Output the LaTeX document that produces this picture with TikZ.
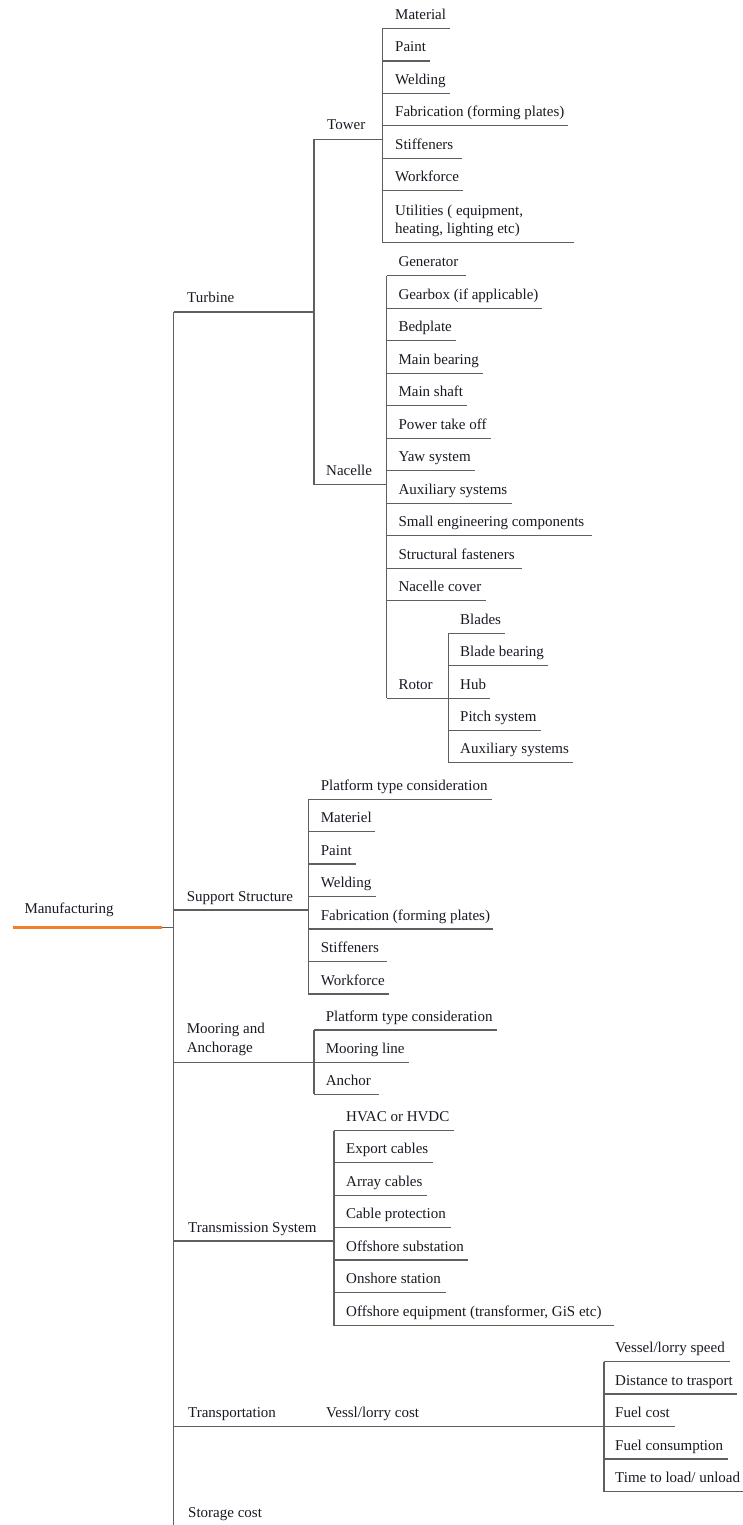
\documentclass[tikz,border=0pt]{standalone}
\usepackage{fontspec}
\setmainfont{Liberation Serif}
\definecolor{lncol}{RGB}{95,95,95}
\definecolor{txcol}{RGB}{25,25,35}
\definecolor{orgcol}{RGB}{245,125,40}
\tikzset{
  lbl/.style={anchor=base west,inner sep=0pt,text=txcol,font=\fontsize{15}{18}\selectfont},
  conn/.style={draw=lncol,line width=1.1pt},
  rootline/.style={draw=orgcol,line width=3pt}
}
% #1 name, #2 vertical x, #3 text x, #4 underline y, #5 underline end x, #6 text
\newcommand\leaf[6]{\node[lbl] (#1) at ({#3},{#4-9}) {#6};\draw[conn] ({#2},{#4}) -- ({#5},{#4});}
\begin{document}
\begin{tikzpicture}[x=1pt,y=-1pt]
\useasboundingbox (0,0) rectangle (743,1525);
% root
\node[lbl] (manu) at (24.3,913) {Manufacturing};
\coordinate (rootend) at (162.3,927.3);
\coordinate (main) at (173.5,927.3);
\draw[rootline] (12.7,927.3) -- (rootend);
\draw[conn] (rootend) -- (main);
\draw[conn] (173.5,312) -- (173.5,1525);

% ---------- Turbine
\node[lbl] (turb) at (187,302) {Turbine};
\coordinate (turbj) at (314,312);
\draw[conn] (173.5,312) -- (turbj);
\draw[conn] (314,139.5) -- (314,484.5);

% Tower
\node[lbl] (tower) at (327,130) {Tower};
\draw[conn] (314,139.5) -- (382.5,139.5);
\draw[conn] (382.5,28.5) -- (382.5,242.7);
\leaf{t1}{382.5}{395}{28.5}{450}{Material}
\leaf{t2}{382.5}{395}{61}{430}{Paint}
\leaf{t3}{382.5}{395}{93.3}{450}{Welding}
\leaf{t4}{382.5}{395}{125.7}{568}{Fabrication (forming plates)}
\leaf{t5}{382.5}{395}{158.3}{462}{Stiffeners}
\leaf{t6}{382.5}{395}{190.7}{463}{Workforce}
\node[lbl] (t7) at (395,215) {Utilities ( equipment,};
\node[lbl] (t7b) at (395,233.5) {heating, lighting etc)};
\draw[conn] (382.5,242.7) -- (574,242.7);

% Nacelle
\node[lbl] (nac) at (326,475) {Nacelle};
\draw[conn] (314,484.5) -- (386.7,484.5);
\draw[conn] (386.7,275.7) -- (386.7,698.3);
\leaf{n1}{386.7}{398.3}{275.7}{466}{Generator}
\leaf{n2}{386.7}{398.3}{308.3}{542}{Gearbox (if applicable)}
\leaf{n3}{386.7}{398.3}{340.7}{456}{Bedplate}
\leaf{n4}{386.7}{398.3}{373.3}{483}{Main bearing}
\leaf{n5}{386.7}{398.3}{405.7}{467}{Main shaft}
\leaf{n6}{386.7}{398.3}{438.3}{491}{Power take off}
\leaf{n7}{386.7}{398.3}{470.7}{475}{Yaw system}
\leaf{n8}{386.7}{398.3}{503.3}{512}{Auxiliary systems}
\leaf{n9}{386.7}{398.3}{535.7}{592}{Small engineering components}
\leaf{n10}{386.7}{398.3}{568.3}{522}{Structural fasteners}
\leaf{n11}{386.7}{398.3}{600.7}{486}{Nacelle cover}

% Rotor
\node[lbl] (rotor) at (398.3,689) {Rotor};
\draw[conn] (386.7,698.3) -- (448.3,698.3);
\draw[conn] (448.3,633.3) -- (448.3,762.7);
\leaf{r1}{448.3}{460}{633.3}{505}{Blades}
\leaf{r2}{448.3}{460}{665.7}{548}{Blade bearing}
\leaf{r3}{448.3}{460}{698.3}{490}{Hub}
\leaf{r4}{448.3}{460}{730.7}{541}{Pitch system}
\leaf{r5}{448.3}{460}{762.7}{573}{Auxiliary systems}

% ---------- Support Structure
\node[lbl] (sup) at (186.7,901.5) {Support Structure};
\draw[conn] (173.5,910) -- (308.3,910);
\draw[conn] (308.3,799.3) -- (308.3,994);
\leaf{s1}{308.3}{320.7}{799.3}{491.7}{Platform type consideration}
\leaf{s2}{308.3}{320.7}{831.7}{375}{Materiel}
\leaf{s3}{308.3}{320.7}{864}{356}{Paint}
\leaf{s4}{308.3}{320.7}{896.7}{375.7}{Welding}
\leaf{s5}{308.3}{320.7}{929}{493}{Fabrication (forming plates)}
\leaf{s6}{308.3}{320.7}{961.7}{386.7}{Stiffeners}
\leaf{s7}{308.3}{320.7}{994}{389}{Workforce}

% ---------- Mooring and Anchorage
\node[lbl] (moor) at (186.7,1033) {Mooring and};
\node[lbl] (moorb) at (186.7,1052.5) {Anchorage};
\draw[conn] (173.5,1062.3) -- (314,1062.3);
\draw[conn] (314,1030) -- (314,1094.3);
\leaf{m1}{314}{325.7}{1030}{496.7}{Platform type consideration}
\leaf{m2}{314}{325.7}{1062.3}{409.3}{Mooring line}
\leaf{m3}{314}{325.7}{1094.3}{379.3}{Anchor}

% ---------- Transmission System
\node[lbl] (trans) at (188,1232.5) {Transmission System};
\draw[conn] (173.5,1241) -- (334,1241);
\draw[conn] (334,1130.7) -- (334,1325.7);
\leaf{x1}{334}{346}{1130.7}{454}{HVAC or HVDC}
\leaf{x2}{334}{346}{1162.7}{432.7}{Export cables}
\leaf{x3}{334}{346}{1195.3}{427.3}{Array cables}
\leaf{x4}{334}{346}{1227.7}{450.7}{Cable protection}
\leaf{x5}{334}{346}{1260}{468.3}{Offshore substation}
\leaf{x6}{334}{346}{1292.7}{445.7}{Onshore station}
\leaf{x7}{334}{346}{1325.7}{614}{Offshore equipment (transformer, GiS etc)}

% ---------- Transportation
\node[lbl] (transp) at (188,1417.5) {Transportation};
\node[lbl] (vessl) at (326,1417.5) {Vessl/lorry cost};
\draw[conn] (173.5,1426.7) -- (604,1426.7);
\draw[conn] (604,1361.7) -- (604,1491.7);
\leaf{v1}{604}{615}{1361.7}{730}{Vessel/lorry speed}
\leaf{v2}{604}{615}{1394}{737}{Distance to trasport}
\leaf{v3}{604}{615}{1426.7}{675}{Fuel cost}
\leaf{v4}{604}{615}{1459}{728}{Fuel consumption}
\leaf{v5}{604}{615}{1491.7}{743}{Time to load/ unload}

% ---------- Storage cost
\node[lbl] (stor) at (188,1517) {Storage cost};
\end{tikzpicture}
\end{document}
